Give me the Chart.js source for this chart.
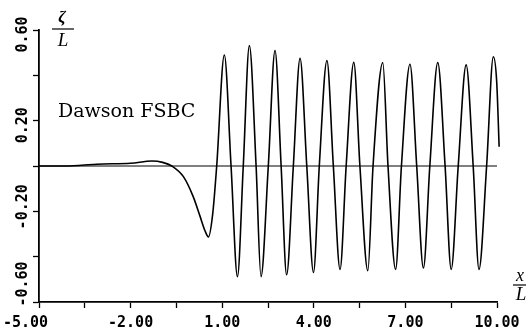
<!DOCTYPE html>
<html>
<head>
<meta charset="utf-8">
<script src="https://cdn.jsdelivr.net/npm/chart.js@4"></script>
<style>
  html, body { margin: 0; padding: 0; background: #fff; }
  #wrap { width: 526px; height: 331px; }
</style>
</head>
<body>
<div id="wrap"><canvas id="chart"></canvas></div>
<script>
// free surface elevation zeta/L, against x/L
const xValues = [-5.0, -4.0, -3.6, -3.1, -2.0, -1.3, -0.95, -0.65, -0.27, 0.05, 0.27, 0.44, 0.55, 0.69, 0.82,
  1.07, 1.29, 1.50, 1.69, 1.89, 2.11, 2.27, 2.51, 2.73, 2.93, 3.11, 3.33, 3.55, 3.77, 3.99, 4.18,
  4.43, 4.64, 4.86, 5.06, 5.31, 5.51, 5.77, 5.94, 6.26, 6.43, 6.68, 6.87, 7.15, 7.37, 7.59, 7.80,
  8.06, 8.30, 8.50, 8.73, 8.99, 9.22, 9.41, 9.66, 9.88, 9.99, 10.07];
const zetaValues = [0, 0, 0.003, 0.008, 0.012, 0.022, 0.016, 0, -0.047, -0.135, -0.22, -0.287, -0.313, -0.21, 0,
  0.49, 0, -0.488, 0, 0.531, 0, -0.488, 0, 0.509, 0, -0.48, 0, 0.475, 0, -0.47, 0,
  0.465, 0, -0.456, 0, 0.457, 0, -0.462, 0, 0.456, 0, -0.456, 0, 0.449, 0, -0.45, 0,
  0.456, 0, -0.456, 0, 0.446, 0, -0.456, 0, 0.482, 0.372, 0.085];

const xTicks = [-5, -3.5, -2, -0.5, 1, 2.5, 4, 5.5, 7, 8.5, 10];
const xTickLabels = ['-5.00   ', '', '-2.00', '', '1.00', '', '4.00', '', '7.00', '', '10.00'];
const yTicks = [-0.6, -0.4, -0.2, 0, 0.2, 0.4, 0.6];
// spaces nudge the rotated labels along the axis
const yTickLabels = ['    -0.60', '', ' -0.20', '', '0.20 ', '', '0.60 '];
const curveLabel = 'Dawson FSBC';

const tickFont = { family: 'DejaVu Sans Mono', size: 15, weight: 'bold' };

// axis titles drawn as fractions, plus the curve label
const annotations = {
  id: 'annotations',
  afterDraw(chart) {
    const ctx = chart.ctx;
    ctx.save();
    ctx.fillStyle = '#000';
    ctx.strokeStyle = '#000';
    ctx.lineWidth = 1.2;
    ctx.textAlign = 'center';
    ctx.textBaseline = 'middle';

    ctx.font = 'italic bold 17px "Liberation Serif"';
    ctx.fillText('ζ', 62, 18);
    ctx.beginPath(); ctx.moveTo(52, 29); ctx.lineTo(74, 29); ctx.stroke();
    ctx.font = 'italic 19px "Liberation Serif"';
    ctx.fillText('L', 63, 41);

    ctx.font = 'italic 18px "Liberation Serif"';
    ctx.fillText('x', 520, 276);
    ctx.beginPath(); ctx.moveTo(513, 285); ctx.lineTo(526, 285); ctx.stroke();
    ctx.font = 'italic 19px "Liberation Serif"';
    ctx.fillText('L', 521, 295);

    ctx.font = '19px "DejaVu Serif"';
    ctx.textAlign = 'left';
    ctx.fillText(curveLabel, 58, 112);
    ctx.restore();
  }
};

new Chart(document.getElementById('chart'), {
  type: 'scatter',
  data: {
    datasets: [
      {
        label: curveLabel,
        data: xValues.map((x, i) => ({ x: x, y: zetaValues[i] })),
        showLine: true,
        borderColor: '#000',
        borderWidth: 1.6,
        pointRadius: 0,
        cubicInterpolationMode: 'monotone',
        clip: 6
      },
      {
        label: 'zero',
        data: [{ x: -5, y: 0 }, { x: 10, y: 0 }],
        showLine: true,
        borderColor: '#000',
        borderWidth: 1,
        pointRadius: 0
      }
    ]
  },
  options: {
    responsive: true,
    maintainAspectRatio: false,
    animation: false,
    events: [],
    layout: { padding: { top: 30, right: 29, left: 0, bottom: 0 } },
    plugins: {
      legend: { display: false },
      tooltip: { enabled: false }
    },
    scales: {
      x: {
        type: 'linear',
        min: -5,
        max: 10,
        afterBuildTicks: (scale) => { scale.ticks = xTicks.map(v => ({ value: v })); },
        afterFit: (scale) => {
          scale.height = 29;
          scale.paddingLeft = 0;
          scale.paddingRight = 0;
        },
        grid: { drawOnChartArea: false, drawTicks: true, tickLength: 6, tickColor: '#000', tickWidth: 1.3 },
        border: { display: true, color: '#000', width: 1.8 },
        ticks: {
          color: '#000',
          font: tickFont,
          padding: 6,
          maxRotation: 0,
          autoSkip: false,
          callback: (v, i) => xTickLabels[i]
        }
      },
      y: {
        type: 'linear',
        min: -0.6,
        max: 0.6,
        afterBuildTicks: (scale) => { scale.ticks = yTicks.map(v => ({ value: v })); },
        afterFit: (scale) => {
          scale.width = 39;
          scale.paddingTop = 0;
          scale.paddingBottom = 0;
        },
        grid: { drawOnChartArea: false, drawTicks: true, tickLength: 6, tickColor: '#000', tickWidth: 1.3 },
        border: { display: true, color: '#000', width: 1.8 },
        ticks: {
          color: '#000',
          font: tickFont,
          minRotation: 90,
          maxRotation: 90,
          crossAlign: 'center',
          padding: -30.5,
          autoSkip: false,
          callback: (v, i) => yTickLabels[i]
        }
      }
    }
  },
  plugins: [annotations]
});
</script>
</body>
</html>
